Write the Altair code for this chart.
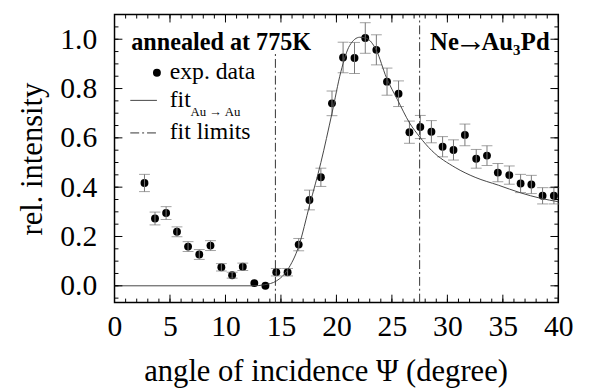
import altair as alt
import pandas as pd

# experimental data (angle in degree, relative intensity, error)
angle = [2.7, 3.65, 4.65, 5.63, 6.63, 7.64, 8.65, 9.63, 10.6, 11.56,
         12.6, 13.6, 14.58, 15.6, 16.6, 17.57, 18.6, 19.6, 20.6, 21.63,
         22.6, 23.6, 24.56, 25.6, 26.58, 27.56, 28.56, 29.57, 30.55, 31.58,
         32.6, 33.57, 34.55, 35.58, 36.6, 37.57, 38.58, 39.6]
intensity = [0.417, 0.273, 0.295, 0.219, 0.159, 0.127, 0.163, 0.075, 0.043, 0.077,
             0.011, 0.0, 0.055, 0.055, 0.167, 0.348, 0.44, 0.74, 0.926, 0.924,
             1.005, 0.957, 0.828, 0.779, 0.623, 0.644, 0.625, 0.564, 0.551, 0.612,
             0.515, 0.528, 0.459, 0.449, 0.415, 0.411, 0.365, 0.365]
error = [0.035, 0.026, 0.026, 0.02, 0.02, 0.02, 0.02, 0.015, 0.012, 0.015,
         0.0, 0.0, 0.015, 0.015, 0.025, 0.04, 0.037, 0.05, 0.062, 0.063,
         0.062, 0.061, 0.055, 0.052, 0.045, 0.047, 0.045, 0.041, 0.041, 0.044,
         0.038, 0.04, 0.037, 0.037, 0.037, 0.037, 0.033, 0.033]

# fit curve
fit_x = [0, 12.5, 13.5, 14.6, 15.6, 16.6, 17.6, 18.6, 19.6, 20.4, 21.2, 22.1, 22.7,
         23.6, 24.5, 25.5, 26.6, 27.5, 28.6, 30.7, 32.5, 34.6, 36.6, 38.4, 40]
fit_y = [0, 0, 0.004, 0.02, 0.065, 0.16, 0.33, 0.5, 0.70, 0.868, 0.975, 1.008, 1.004,
         0.955, 0.845, 0.755, 0.66, 0.604, 0.548, 0.48, 0.44, 0.408, 0.377, 0.355, 0.341]

# fit limits
limit_x = [14.5, 27.5]
limit_top = [0.94, 1.1]
limit_bottom = [-0.068, -0.068]

# axis tick values
x_labels = [0, 5, 10, 15, 20, 25, 30, 35, 40]
x_minor = list(range(0, 41))
y_labels = [0.0, 0.2, 0.4, 0.6, 0.8, 1.0]
y_minor = [-0.05, 0.0, 0.05, 0.1, 0.15, 0.2, 0.25, 0.3, 0.35, 0.4, 0.45, 0.5, 0.55,
           0.6, 0.65, 0.7, 0.75, 0.8, 0.85, 0.9, 0.95, 1.0, 1.05]

X_DOMAIN = [0, 40]
Y_DOMAIN = [-0.068, 1.1]
W, H = 450, 292
FONT = "Liberation Serif"

xs = alt.Scale(domain=X_DOMAIN, nice=False, zero=False)
ys = alt.Scale(domain=Y_DOMAIN, nice=False, zero=False)

df = pd.DataFrame({"angle": angle, "intensity": intensity, "err": error})
df["lo"] = df["intensity"] - df["err"]
df["hi"] = df["intensity"] + df["err"]
bars_df = df[df["err"] > 0]

points = alt.Chart(df).mark_circle(size=64, color="black", opacity=1).encode(
    x=alt.X("angle:Q", scale=xs,
            axis=alt.Axis(values=x_labels, title="angle of incidence Ψ (degree)",
                          domain=False, ticks=False, grid=False, labelPadding=9,
                          labelFlush=False, labelOverlap=False,
                          labelFont=FONT, labelFontSize=30, labelColor="black",
                          titleFont=FONT, titleFontSize=31, titleFontWeight="normal",
                          titleColor="black", titleBaseline="alphabetic",
                          titleAlign="center", titleX=214, titleY=79)),
    y=alt.Y("intensity:Q", scale=ys,
            axis=alt.Axis(values=y_labels, format=".1f", title="rel. intensity",
                          domain=False, ticks=False, grid=False, labelPadding=18,
                          labelFlush=False, labelOverlap=False,
                          labelFont=FONT, labelFontSize=30, labelColor="black",
                          titleFont=FONT, titleFontSize=31, titleFontWeight="normal",
                          titleColor="black", titleBaseline="alphabetic",
                          titleAlign="center", titleAngle=270, titleX=-74, titleY=146)),
)

err_rule = alt.Chart(bars_df).mark_rule(color="#777777", strokeWidth=1).encode(
    x=alt.X("angle:Q", scale=xs),
    y=alt.Y("lo:Q", scale=ys),
    y2="hi:Q",
)
caps = alt.Chart(bars_df).transform_fold(["lo", "hi"], as_=["k", "v"]).mark_tick(
    orient="horizontal", size=11, thickness=1, color="#777777").encode(
    x=alt.X("angle:Q", scale=xs),
    y=alt.Y("v:Q", scale=ys),
)

fit = alt.Chart(pd.DataFrame({"fx": fit_x, "fy": fit_y})).mark_line(
    color="#444444", strokeWidth=1, interpolate="monotone").encode(
    x=alt.X("fx:Q", scale=xs),
    y=alt.Y("fy:Q", scale=ys),
)

limits = alt.Chart(pd.DataFrame({"lx": limit_x, "top": limit_top, "bot": limit_bottom})).mark_rule(
    color="#333333", strokeWidth=1, strokeDash=[9, 3, 2, 3]).encode(
    x=alt.X("lx:Q", scale=xs),
    y=alt.Y("bot:Q", scale=ys),
    y2="top:Q",
)

def tick_layer(values, channel, side, length):
    d = alt.Chart(pd.DataFrame({"v": values})).mark_rule(color="black", strokeWidth=1)
    if channel == "x":
        enc = dict(x=alt.X("v:Q", scale=xs))
        if side == "bottom":
            enc.update(y=alt.value(H), y2=alt.value(H - length))
        else:
            enc.update(y=alt.value(0), y2=alt.value(length))
    else:
        enc = dict(y=alt.Y("v:Q", scale=ys))
        if side == "left":
            enc.update(x=alt.value(0), x2=alt.value(length))
        else:
            enc.update(x=alt.value(W), x2=alt.value(W - length))
    return d.encode(**enc)

ticks = [
    tick_layer(x_minor, "x", "bottom", 4), tick_layer(x_labels, "x", "bottom", 8),
    tick_layer(x_minor, "x", "top", 4), tick_layer(x_labels, "x", "top", 8),
    tick_layer(y_minor, "y", "left", 4), tick_layer(y_labels, "y", "left", 8),
    tick_layer(y_minor, "y", "right", 4), tick_layer(y_labels, "y", "right", 8),
]

one = pd.DataFrame({"a": [0]})

def txt(text, x, y, size, bold=False, align="left"):
    return alt.Chart(one).mark_text(
        text=text, font=FONT, fontSize=size, fontWeight="bold" if bold else "normal",
        align=align, baseline="alphabetic", color="black").encode(
        x=alt.value(x), y=alt.value(y))

labels = [
    txt("annealed at 775K", 17, 36, 24.5, bold=True),
    txt("Ne", 320, 36, 25, bold=True),
    txt("→", 361, 37, 32, bold=True, align="center"),
    txt("Au", 372, 36, 25, bold=True),
    txt("3", 404, 41, 15, bold=True),
    txt("Pd", 412, 36, 25, bold=True),
    txt("exp. data", 56, 65, 24),
    txt("fit", 56, 94, 24),
    txt("Au → Au", 77, 103, 13),
    txt("fit limits", 56, 126, 24),
]

leg_dot = alt.Chart(one).mark_circle(size=64, color="black", opacity=1).encode(
    x=alt.value(43), y=alt.value(59))
leg_line = alt.Chart(one).mark_rule(color="#444444", strokeWidth=1).encode(
    x=alt.value(16), x2=alt.value(43), y=alt.value(87))
leg_dash = alt.Chart(one).mark_rule(color="#333333", strokeWidth=1, strokeDash=[9, 3, 2, 3]).encode(
    x=alt.value(16), x2=alt.value(43), y=alt.value(120))

chart = alt.layer(
    points, err_rule, caps, fit, limits, *ticks, *labels, leg_dot, leg_line, leg_dash
).properties(
    width=W, height=H, autosize="none",
    padding={"left": 108, "top": 4, "right": 24, "bottom": 87},
    background="white",
).configure_view(stroke="black", strokeWidth=1.5)

chart.save("out.html", embed_options={"renderer": "svg", "actions": False})
